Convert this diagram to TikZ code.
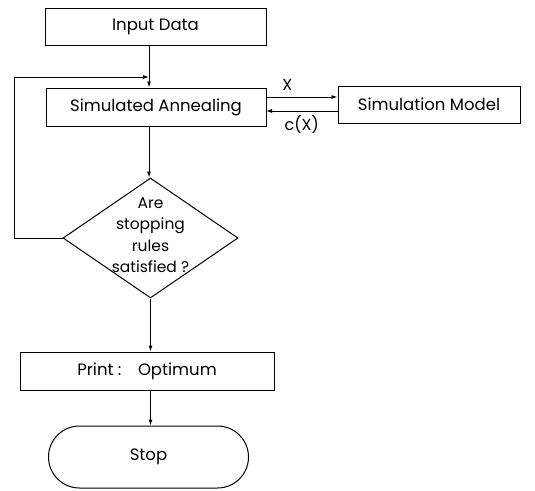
\documentclass[tikz,border=0pt]{standalone}
\usepackage{fontspec}
\setmainfont{Poppins}
\usetikzlibrary{shapes.geometric,shapes.misc,arrows.meta}
\begin{document}
\begin{tikzpicture}[x=1pt,y=-1pt,
  line width=1pt,
  box/.style={draw,rectangle,inner sep=0pt,font=\fontsize{16.5}{18}\selectfont},
  lbl/.style={font=\fontsize{16}{18}\selectfont},
  arr/.style={-{Latex[length=6pt,width=4pt]}}]
\useasboundingbox (0,0) rectangle (535,490);
\node[box,minimum width=221pt,minimum height=37pt] (in) at (155.5,26.5) {Input Data};
\node[box,minimum width=220pt,minimum height=38pt] (sa) at (156,107) {Simulated Annealing};
\node[box,minimum width=182pt,minimum height=37pt] (sm) at (429,104.5) {Simulation Model};
\node[draw,diamond,aspect=1.45,inner sep=0pt,minimum width=175pt,minimum height=120pt] (dec) at (150.5,238) {};
\node[align=center,font=\fontsize{15.5}{21.5}\selectfont,inner sep=0pt] (dect) at (150.5,235) {Are\\stopping\\rules\\satisfied ?};
\node[box,minimum width=254pt,minimum height=38pt] (pr) at (147,371) {Print :\quad Optimum};
\node[draw,rounded rectangle,inner sep=0pt,minimum width=200pt,minimum height=62pt,font=\fontsize{16.5}{18}\selectfont] (st) at (148.5,457) {Stop};
\coordinate (j) at (149,77);
\coordinate (fl) at (14,238);
\coordinate (fu) at (14,77);
\draw (in.south -| j) -- (j);
\draw[arr] (j) -- (j |- sa.north);
\draw[arr] (dec.west) -- (fl) -- (fu) -- (j);
\draw[arr] (sa.south -| j) -- (j |- dec.north);
\draw[arr] (dec.south) -- (dec.south |- pr.north);
\draw[arr] (pr.south -| dec.south) -- (dec.south |- st.north);
\coordinate (xa) at (266,97);
\coordinate (ca) at (266,111);
\draw[arr] (xa) -- (xa -| sm.west) node[lbl,pos=0.3,above=3pt] (xl) {X};
\draw[arr] (ca -| sm.west) -- (ca) node[lbl,pos=0.5,below=1pt] (cl) {c(X)};
\end{tikzpicture}
\end{document}
